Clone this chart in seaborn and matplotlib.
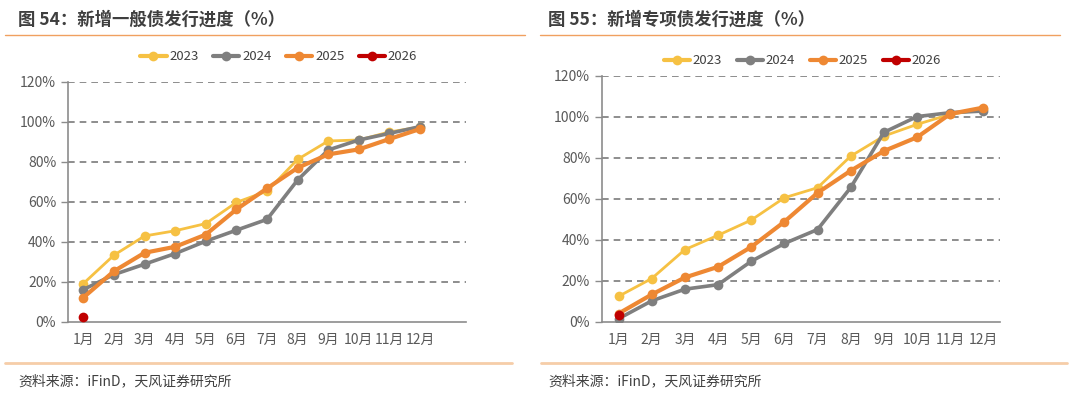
import matplotlib
matplotlib.use("Agg")
import matplotlib.pyplot as plt
from matplotlib.lines import Line2D
from matplotlib.ticker import FuncFormatter, FixedLocator
import seaborn as sns
import pandas as pd

sns.set_theme(style="white")
plt.rcParams["font.family"] = ["Noto Sans CJK SC", "DejaVu Sans"]

# 数据（%）
months = ["1月", "2月", "3月", "4月", "5月", "6月", "7月", "8月", "9月", "10月", "11月", "12月"]
years = ["2023", "2024", "2025", "2026"]

general_2023 = [19.2, 33.4, 43.0, 45.6, 49.2, 59.8, 65.4, 81.3, 90.5, 91.0, 95.0, 97.5]
general_2024 = [16.2, 23.7, 28.9, 34.2, 40.4, 45.9, 51.3, 71.0, 86.0, 91.0, 94.3, 97.7]
general_2025 = [12.2, 25.4, 34.6, 37.6, 43.7, 56.3, 66.8, 77.1, 83.8, 86.3, 91.5, 96.5]
general_2026 = [2.5]

special_2023 = [12.5, 21.2, 35.3, 42.3, 49.7, 60.6, 65.5, 80.9, 90.7, 96.4, 101.3, 103.7]
special_2024 = [1.6, 10.3, 16.0, 18.2, 29.6, 38.3, 45.1, 65.6, 92.5, 100.2, 102.1, 102.9]
special_2025 = [4.1, 13.4, 21.7, 26.9, 36.6, 48.9, 63.0, 73.8, 83.4, 90.1, 101.5, 104.6]
special_2026 = [3.3]

palette = {"2023": "#F6C143", "2024": "#7F7F7F", "2025": "#EE8833", "2026": "#C00000"}
widths = {"2023": 2.0, "2024": 2.6, "2025": 3.0, "2026": 2.0}


def long_df(series):
    rows = []
    for yr, vals in zip(years, series):
        for m, v in zip(months, vals):
            rows.append({"月份": m, "进度": v, "年份": yr})
    return pd.DataFrame(rows)


def draw(ax, df, n_slots, legend_xy):
    for yr in years:
        sub = df[df["年份"] == yr]
        sns.lineplot(data=sub, x="月份", y="进度", color=palette[yr], lw=widths[yr],
                     marker="o", markersize=7, markeredgewidth=0, ax=ax, sort=False,
                     label=yr, zorder=3)
    ax.set_xlim(-0.5, n_slots - 0.5)
    ax.set_ylim(0, 120)
    ax.set_yticks(range(0, 121, 20))
    ax.yaxis.set_major_formatter(FuncFormatter(lambda v, p: f"{v:.0f}%"))
    ax.xaxis.set_minor_locator(FixedLocator([i - 0.5 for i in range(n_slots + 1)]))
    ax.tick_params(axis="x", which="major", length=0, labelsize=10, colors="#595959", pad=8)
    ax.tick_params(axis="x", which="minor", length=5, width=1, color="#8C8C8C", direction="out")
    ax.tick_params(axis="y", length=5, width=1, color="#8C8C8C", labelsize=10,
                   colors="#595959", direction="out", left=True)
    for y in range(20, 121, 20):
        ax.axhline(y, color="#7A7A7A", lw=1.2, ls=(0, (4, 3)), zorder=1)
    for s in ["top", "right"]:
        ax.spines[s].set_visible(False)
    for s in ["left", "bottom"]:
        ax.spines[s].set_color("#8C8C8C")
        ax.spines[s].set_linewidth(1.2)
    ax.set_xlabel("")
    ax.set_ylabel("")
    handles = [Line2D([0], [0], color=palette[y], lw=3, marker="o", markersize=7,
                      markeredgewidth=0) for y in years]
    ax.legend(handles, years, loc="center", bbox_to_anchor=legend_xy,
              bbox_transform=ax.figure.transFigure, ncol=4, frameon=False,
              fontsize=9.5, handlelength=2.0, columnspacing=1.1, handletextpad=0.2,
              labelcolor="#404040")


fig = plt.figure(figsize=(10.8, 3.97), dpi=100)

ax1 = fig.add_axes([0.063, 0.189, 0.3685, 0.6045])
draw(ax1, long_df([general_2023, general_2024, general_2025, general_2026]), 13, (0.258, 0.857))

ax2 = fig.add_axes([0.5574, 0.189, 0.3685, 0.6196])
draw(ax2, long_df([special_2023, special_2024, special_2025, special_2026]), 12, (0.743, 0.847))

# 标题、分隔线、来源
fig.text(18 / 1080, 1 - 20 / 397, "图 54：新增一般债发行进度（%）", fontsize=12.5,
         fontweight="bold", color="#3F3F3F", va="center", ha="left")
fig.text(548 / 1080, 1 - 20 / 397, "图 55：新增专项债发行进度（%）", fontsize=12.5,
         fontweight="bold", color="#3F3F3F", va="center", ha="left")
for x0, x1 in [(5, 525), (540, 1060)]:
    fig.add_artist(Line2D([x0 / 1080, x1 / 1080], [1 - 35 / 397] * 2, color="#F0A060", lw=1))
for x0, x1 in [(5, 512), (541, 1067)]:
    fig.add_artist(Line2D([x0 / 1080, x1 / 1080], [1 - 363 / 397] * 2, color="#F6CDA8", lw=2))
fig.text(18 / 1080, 1 - 381 / 397, "资料来源：iFinD，天风证券研究所", fontsize=10,
         color="#404040", va="center", ha="left")
fig.text(548 / 1080, 1 - 381 / 397, "资料来源：iFinD，天风证券研究所", fontsize=10,
         color="#404040", va="center", ha="left")

fig.savefig("out.png", dpi=100, facecolor="white")
